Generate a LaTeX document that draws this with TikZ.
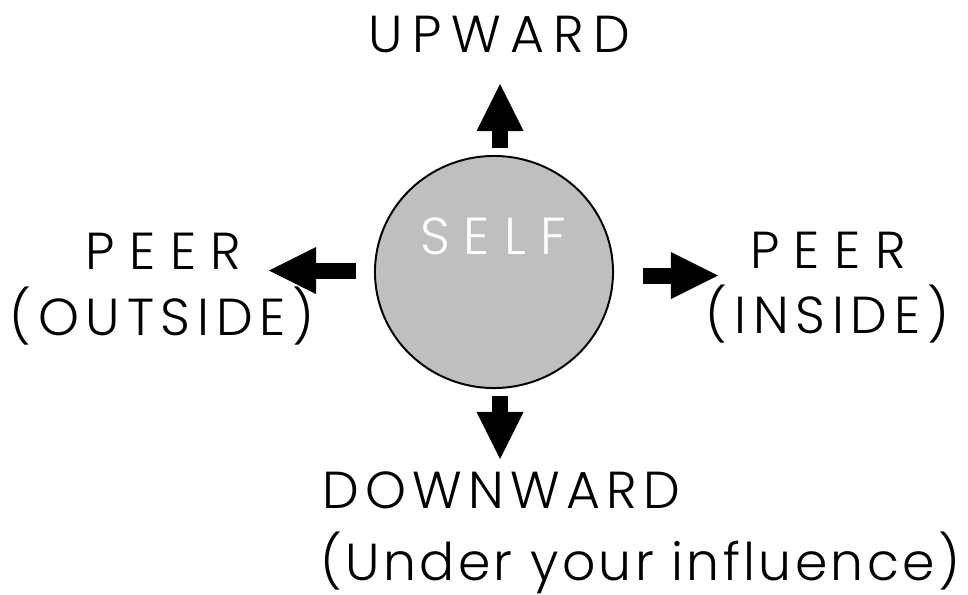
\documentclass[tikz,border=0pt]{standalone}
\usepackage{fontspec}
\setmainfont[UprightFont={* Light}]{Poppins}
\usepackage{tikz}
\usetikzlibrary{arrows.meta,shapes.geometric}
\newcommand\spaced[1]{\addfontfeature{LetterSpace=#1}}

\begin{document}
\begin{tikzpicture}[x=0.025cm, y=-0.025cm]
  \tikzstyle{selfnode}=[ellipse, draw=black, fill=black!25, line width=1.4pt, minimum width=5.95cm, minimum height=5.8cm]
  \tikzstyle{dirtext}=[inner sep=0pt, font=\fontsize{37}{42}\selectfont]
  \tikzstyle{blockarrow}=[line width=0.4cm, -{Triangle[width=1.175cm, length=1.175cm, line width=0pt]}]

  \useasboundingbox (0,0) rectangle (968,594);

  % Yo en el centro
  \node[selfnode] (self) at (494,272) {};
  \node[dirtext, anchor=base, text=white] (selftxt) at (493,254) {\spaced{27}SELF};

  % Direcciones alrededor
  \node[dirtext, anchor=base] (up) at (499.5,52) {\spaced{18}UPWARD};
  \node[dirtext, anchor=base] (peerout1) at (163.5,269) {\spaced{28}PEER};
  \node[dirtext, anchor=base] (peerout2) at (162,335) {\spaced{13}(OUTSIDE)};
  \node[dirtext, anchor=base] (peerin1) at (828,268) {\spaced{28}PEER};
  \node[dirtext, anchor=base] (peerin2) at (827.5,333) {\spaced{13}(INSIDE)};
  \node[dirtext, anchor=base west] (down1) at (322,508) {\spaced{12}DOWNWARD};
  \node[dirtext, anchor=base west] (down2) at (320,580) {\spaced{6.5}(Under your influence)};

  % Extremos de las flechas
  \coordinate (upS) at (500,148);
  \coordinate (upE) at (500,84);
  \coordinate (downS) at (500,396);
  \coordinate (downE) at (500,459);
  \coordinate (leftS) at (356,270.5);
  \coordinate (leftE) at (269,270.5);
  \coordinate (rightS) at (643,275.5);
  \coordinate (rightE) at (718,275.5);

  % Flechas
  \draw[blockarrow] (upS) -- (upE);
  \draw[blockarrow] (downS) -- (downE);
  \draw[blockarrow] (leftS) -- (leftE);
  \draw[blockarrow] (rightS) -- (rightE);
\end{tikzpicture}
\end{document}
